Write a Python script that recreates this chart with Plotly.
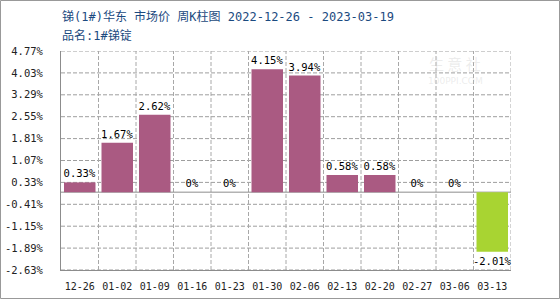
import plotly.graph_objects as go

categories = ["12-26", "01-02", "01-09", "01-16", "01-23", "01-30",
              "02-06", "02-13", "02-20", "02-27", "03-06", "03-13"]
values = [0.33, 1.67, 2.62, 0, 0, 4.15, 3.94, 0.58, 0.58, 0, 0, -2.01]
y_ticks = [-2.63, -1.89, -1.15, -0.41, 0.33, 1.07, 1.81, 2.55, 3.29, 4.03, 4.77]
title_text = "锑(1#)华东 市场价 周K柱图 2022-12-26 - 2023-03-19"
subtitle_text = "品名:1#锑锭"

W, H = 560, 300
L, R, T, B = 61, 49, 51, 30
pw, ph = W - L - R, H - T - B

def px_x(p):
    return (p - L) / pw

def px_y(p):
    return (H - B - p) / ph

pos_color = "#AA5A82"
neg_color = "#A8D432"
colors = [neg_color if v < 0 else pos_color for v in values]
xs = list(range(len(categories)))
labels = [f"{v:g}%" for v in values]

mono = "DejaVu Sans Mono"
grid = "#a8a8a8"
axis_col = "#8c8c8c"

fig = go.Figure()
fig.add_trace(go.Bar(
    x=xs, y=values, marker=dict(color=colors, line=dict(width=0)),
    text=labels, textposition="outside", cliponaxis=False,
    constraintext="none",
    textfont=dict(family=mono, size=10.5, color="#000000"),
    width=0.84,
))

fig.update_layout(
    width=W, height=H,
    margin=dict(l=L, r=R, t=T, b=B, pad=0),
    paper_bgcolor="white", plot_bgcolor="white",
    showlegend=False,
    xaxis=dict(
        range=[-0.5, len(categories) - 0.5], automargin=False,
        tickmode="array", tickvals=xs, ticktext=categories,
        showgrid=False, zeroline=False, ticks="",
        ticklabelstandoff=7,
        showline=True, linecolor=axis_col, linewidth=1,
        tickfont=dict(family=mono, size=10, color="#222222"),
    ),
    yaxis=dict(
        range=[y_ticks[0], y_ticks[-1]], automargin=False,
        tickmode="array", tickvals=y_ticks,
        ticktext=[f"{t:.2f}%" for t in y_ticks],
        showgrid=False, zeroline=False, ticks="",
        ticklabelstandoff=15,
        showline=True, linecolor=axis_col, linewidth=1,
        tickfont=dict(family=mono, size=10.5, color="#222222"),
    ),
    font=dict(family=mono),
)

# dashed gridlines (horizontal at ticks, vertical at category boundaries)
for t in y_ticks:
    fig.add_shape(type="line", xref="paper", yref="y", x0=0, x1=1, y0=t, y1=t,
                  line=dict(color="#9e9e9e", width=1, dash="4px,2px"), layer="below")
for i in xs:
    fig.add_shape(type="line", xref="x", yref="paper", x0=i + 0.5, x1=i + 0.5,
                  y0=0, y1=1, line=dict(color=grid, width=1, dash="4px,2px"),
                  layer="below")
# zero line
fig.add_shape(type="line", xref="paper", yref="y", x0=0, x1=1, y0=0, y1=0,
              line=dict(color=axis_col, width=1), layer="below")

fig.add_annotation(
    text=title_text, xref="paper", yref="paper",
    x=px_x(60), y=px_y(17), xanchor="left", yanchor="middle",
    showarrow=False,
    font=dict(family="DejaVu Sans Mono, Noto Sans CJK SC", size=12, color="#1b4a80"),
)
fig.add_annotation(
    text=subtitle_text, xref="paper", yref="paper",
    x=px_x(60), y=px_y(36), xanchor="left", yanchor="middle",
    showarrow=False,
    font=dict(family="DejaVu Sans Mono, Noto Sans CJK SC", size=12, color="#1b4a80"),
)
fig.add_annotation(
    text="生 意 社", xref="paper", yref="paper",
    x=px_x(455), y=px_y(63), xanchor="center", yanchor="middle",
    showarrow=False,
    font=dict(family="Noto Sans CJK SC", size=15, color="rgba(200,200,200,0.35)"),
)
fig.add_annotation(
    text="100PPI.COM", xref="paper", yref="paper",
    x=px_x(455), y=px_y(81), xanchor="center", yanchor="middle",
    showarrow=False,
    font=dict(family="DejaVu Sans", size=9, color="rgba(200,200,200,0.35)"),
)
fig.add_shape(
    type="rect", xref="paper", yref="paper",
    x0=px_x(0.5), x1=px_x(559.5), y0=px_y(298.5), y1=px_y(0.5),
    line=dict(color="#999999", width=1), fillcolor="rgba(0,0,0,0)",
    layer="above",
)

fig.write_html("out.html")
